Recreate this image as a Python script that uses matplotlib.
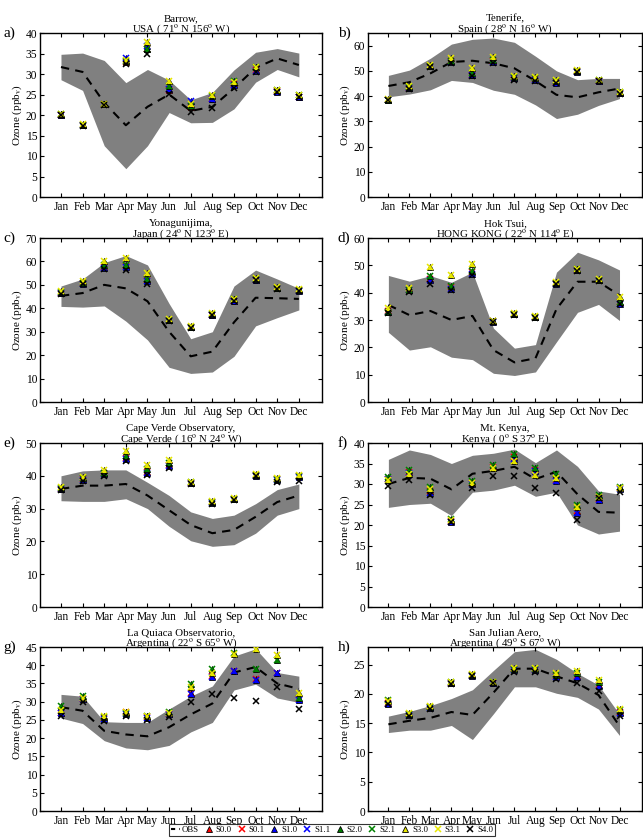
import matplotlib
matplotlib.use("Agg")
import matplotlib.pyplot as plt
from matplotlib.lines import Line2D

plt.rcParams['font.family'] = ['Liberation Serif', 'DejaVu Serif']
plt.rcParams['mathtext.fontset'] = 'stix'

months = ['Jan', 'Feb', 'Mar', 'Apr', 'May', 'Jun', 'Jul', 'Aug', 'Sep', 'Oct', 'Nov', 'Dec']

# ---------------- a) Barrow ----------------
barrow_obs = [31.7, 30.5, 23.0, 17.5, 22.0, 25.0, 21.0, 22.0, 26.5, 31.5, 33.8, 32.2]
barrow_hi = [34.8, 35.1, 33.3, 27.9, 31.1, 28.5, 23.7, 25.5, 31.0, 35.3, 36.2, 35.1]
barrow_lo = [28.6, 26.0, 12.5, 6.9, 12.5, 20.6, 18.1, 18.2, 21.5, 28.0, 31.1, 29.3]
barrow_s0 = [20.1, 17.5, 22.6, 33.0, 36.0, 26.0, 22.0, 23.8, 27.5, 31.0, 25.8, 24.5]
barrow_s1 = [20.1, 17.5, 22.6, 33.8, 36.8, 26.3, 23.3, 24.0, 27.3, 30.8, 25.6, 24.5]
barrow_s2 = [20.2, 17.6, 22.7, 33.2, 36.0, 27.0, 22.3, 24.6, 28.3, 31.8, 26.2, 24.8]
barrow_s3 = [20.3, 17.7, 22.8, 33.5, 37.8, 28.3, 22.8, 24.8, 28.0, 31.7, 26.2, 24.8]
barrow_s4 = [20.0, 17.4, 22.5, 32.5, 35.0, 25.2, 20.7, 21.8, 26.6, 30.5, 25.6, 24.4]

# ---------------- b) Tenerife ----------------
tenerife_obs = [44.0, 45.5, 49.0, 53.5, 54.0, 53.0, 51.0, 46.0, 40.5, 39.5, 41.5, 43.0]
tenerife_hi = [48.2, 50.3, 55.0, 60.6, 62.5, 63.0, 61.3, 55.8, 50.0, 46.5, 47.0, 47.0]
tenerife_lo = [39.7, 40.8, 42.5, 46.2, 45.4, 42.3, 40.7, 36.5, 31.1, 32.8, 36.3, 39.0]
tenerife_s0 = [38.5, 43.3, 51.8, 53.8, 48.5, 53.8, 47.3, 46.8, 45.5, 49.8, 46.0, 41.3]
tenerife_s1 = [38.5, 43.3, 51.8, 53.5, 48.2, 53.5, 47.3, 46.5, 45.3, 49.5, 46.0, 41.3]
tenerife_s2 = [38.6, 43.5, 52.0, 54.0, 49.0, 54.2, 47.5, 47.0, 46.0, 50.0, 46.2, 41.5]
tenerife_s3 = [38.8, 44.0, 52.5, 55.0, 51.0, 55.5, 48.0, 47.5, 46.3, 50.3, 46.3, 41.8]
tenerife_s4 = [38.3, 43.0, 51.5, 53.0, 48.0, 53.0, 46.5, 46.0, 45.0, 49.5, 45.8, 41.0]

# ---------------- c) Yonagunijima ----------------
yonag_obs = [45.3, 46.5, 50.0, 48.5, 43.0, 30.0, 19.5, 21.5, 34.0, 44.5, 44.3, 44.0]
yonag_hi = [49.5, 52.5, 59.5, 62.5, 58.5, 42.0, 27.0, 30.0, 49.5, 56.3, 52.5, 48.5]
yonag_lo = [40.8, 40.5, 41.0, 34.5, 26.5, 14.8, 12.2, 12.8, 19.5, 32.5, 36.0, 39.3]
yonag_s0 = [46.6, 50.8, 57.5, 58.0, 52.0, 34.8, 31.9, 37.3, 43.2, 52.2, 48.6, 47.7]
yonag_s1 = [46.5, 50.5, 57.0, 57.5, 51.5, 34.8, 31.8, 37.2, 43.0, 52.0, 48.5, 47.5]
yonag_s2 = [46.8, 51.0, 58.5, 58.5, 52.5, 35.0, 32.0, 37.5, 43.8, 52.5, 48.8, 48.0]
yonag_s3 = [47.2, 51.5, 60.0, 61.5, 55.0, 35.3, 32.3, 37.8, 44.0, 52.8, 49.0, 48.3]
yonag_s4 = [46.3, 50.3, 56.8, 56.3, 50.5, 34.5, 31.7, 37.0, 43.0, 52.0, 48.3, 47.3]

# ---------------- d) Hok Tsui ----------------
hoktsui_obs = [35.5, 31.8, 33.3, 30.0, 31.5, 19.0, 14.5, 16.0, 34.0, 44.0, 44.0, 39.0]
hoktsui_hi = [46.3, 44.2, 46.2, 43.8, 47.5, 27.0, 19.7, 21.0, 47.5, 54.8, 52.0, 48.3]
hoktsui_lo = [25.5, 19.0, 20.2, 16.4, 15.5, 10.5, 9.7, 11.0, 22.0, 32.8, 35.7, 29.8]
hoktsui_s0 = [33.2, 41.0, 45.0, 42.0, 47.5, 29.5, 32.2, 31.0, 43.4, 48.4, 44.6, 36.5]
hoktsui_s1 = [33.0, 40.8, 44.5, 41.5, 47.0, 29.4, 32.2, 31.0, 43.3, 48.3, 44.5, 36.0]
hoktsui_s2 = [33.0, 40.8, 46.0, 42.5, 48.0, 29.6, 32.3, 31.0, 43.5, 48.5, 44.8, 36.5]
hoktsui_s3 = [34.5, 41.8, 49.3, 46.5, 50.5, 29.8, 32.5, 31.3, 43.8, 48.8, 45.0, 38.5]
hoktsui_s4 = [32.5, 40.3, 43.3, 40.8, 46.5, 29.2, 32.0, 30.8, 43.0, 48.0, 44.3, 35.8]

# ---------------- e) Cape Verde ----------------
capeverde_obs = [36.0, 37.0, 37.0, 37.5, 34.0, 29.5, 25.0, 22.5, 23.5, 27.5, 32.0, 34.0]
capeverde_hi = [40.0, 41.5, 41.8, 41.8, 38.0, 34.0, 29.0, 27.0, 28.0, 31.5, 35.8, 37.5]
capeverde_lo = [32.4, 32.2, 32.2, 33.0, 30.0, 24.6, 20.2, 18.5, 19.0, 22.5, 28.0, 30.0]
capeverde_s0 = [36.1, 39.0, 40.8, 45.5, 41.3, 43.3, 37.9, 31.9, 32.9, 40.1, 38.9, 39.8]
capeverde_s1 = [36.0, 38.8, 40.5, 45.0, 40.8, 43.0, 37.8, 31.8, 32.8, 40.0, 38.8, 39.6]
capeverde_s2 = [36.3, 39.2, 41.0, 46.0, 42.0, 43.8, 38.0, 32.0, 33.0, 40.2, 39.0, 40.0]
capeverde_s3 = [36.5, 39.5, 41.7, 47.5, 43.3, 44.8, 38.2, 32.3, 33.2, 40.5, 39.3, 40.2]
capeverde_s4 = [35.8, 38.3, 40.0, 44.5, 40.3, 42.5, 37.5, 31.5, 32.5, 39.8, 38.0, 38.3]

# ---------------- f) Mt. Kenya ----------------
kenya_obs = [30.0, 31.5, 31.3, 28.7, 32.5, 33.2, 34.2, 31.2, 33.0, 27.5, 23.2, 23.0]
kenya_hi = [36.0, 38.3, 37.2, 35.0, 37.0, 37.5, 38.5, 35.2, 38.3, 34.3, 28.3, 27.5]
kenya_lo = [24.3, 25.0, 25.3, 22.3, 28.0, 28.5, 29.7, 27.0, 28.0, 20.0, 17.8, 18.5]
kenya_s0 = [31.3, 33.0, 28.2, 21.0, 30.2, 34.2, 36.5, 33.5, 31.0, 23.5, 26.3, 29.0]
kenya_s1 = [31.2, 32.8, 27.8, 20.8, 30.0, 34.0, 36.2, 33.2, 30.8, 23.0, 26.0, 28.8]
kenya_s2 = [31.8, 33.5, 29.2, 21.5, 30.8, 34.6, 37.2, 34.0, 32.5, 24.8, 27.3, 29.3]
kenya_s3 = [31.0, 32.5, 28.8, 21.3, 30.3, 33.8, 35.5, 32.3, 31.5, 24.5, 26.8, 29.0]
kenya_s4 = [29.5, 31.0, 27.3, 20.8, 29.0, 32.0, 32.0, 29.0, 27.8, 21.3, 26.5, 28.0]

# ---------------- g) La Quiaca ----------------
quiaca_obs = [28.5, 27.5, 22.0, 21.0, 20.5, 23.0, 26.5, 29.5, 38.0, 39.5, 35.0, 33.5]
quiaca_hi = [32.0, 31.5, 24.5, 24.3, 24.3, 28.0, 31.5, 34.3, 42.5, 44.5, 38.0, 37.0]
quiaca_lo = [25.5, 24.0, 19.3, 17.3, 16.8, 18.0, 21.7, 24.3, 33.2, 34.8, 31.0, 29.8]
quiaca_s0 = [27.0, 30.8, 25.5, 27.2, 25.8, 26.7, 32.3, 37.0, 38.5, 36.3, 38.0, 30.8]
quiaca_s1 = [26.8, 30.6, 25.3, 26.5, 25.6, 26.5, 32.0, 36.8, 38.3, 36.0, 37.8, 30.5]
quiaca_s2 = [28.8, 31.5, 25.8, 27.0, 26.0, 27.2, 34.8, 39.0, 43.3, 39.0, 41.3, 31.0]
quiaca_s3 = [27.7, 31.0, 26.0, 27.2, 26.2, 27.0, 34.0, 38.0, 43.0, 44.5, 42.8, 32.3]
quiaca_s4 = [26.0, 30.0, 24.7, 26.0, 25.0, 25.8, 30.0, 32.2, 31.1, 30.3, 34.0, 28.0]

# ---------------- h) San Julian ----------------
julian_obs = [14.8, 15.4, 15.9, 16.9, 16.4, 20.2, 24.3, 24.3, 23.0, 21.8, 19.8, 14.5]
julian_hi = [16.2, 17.0, 18.0, 19.2, 20.7, 24.0, 27.2, 27.6, 25.9, 23.5, 21.5, 16.5]
julian_lo = [13.4, 13.8, 13.8, 14.6, 12.2, 16.6, 21.2, 21.2, 20.1, 19.4, 17.4, 12.9]
julian_s0 = [18.5, 16.5, 17.7, 21.9, 23.2, 21.9, 24.2, 24.1, 23.0, 23.0, 21.5, 16.9]
julian_s1 = [18.3, 16.4, 17.6, 21.9, 23.1, 21.9, 24.1, 24.0, 22.9, 22.8, 21.3, 16.7]
julian_s2 = [19.0, 16.6, 17.8, 22.0, 23.3, 22.0, 24.3, 24.2, 23.3, 23.5, 22.0, 17.2]
julian_s3 = [18.8, 16.7, 17.9, 22.1, 23.4, 22.1, 24.5, 24.4, 23.6, 23.9, 22.4, 17.5]
julian_s4 = [18.2, 16.3, 17.5, 21.7, 23.0, 21.8, 23.8, 23.7, 22.5, 21.8, 20.5, 16.3]

titles = [
    "Barrow,\nUSA ( 71$^{\\rm o}$ N 156$^{\\rm o}$ W)",
    "Tenerife,\nSpain ( 28$^{\\rm o}$ N 16$^{\\rm o}$ W)",
    "Yonagunijima,\nJapan ( 24$^{\\rm o}$ N 123$^{\\rm o}$ E)",
    "Hok Tsui,\nHONG KONG ( 22$^{\\rm o}$ N 114$^{\\rm o}$ E)",
    "Cape Verde Observatory,\nCape Verde ( 16$^{\\rm o}$ N 24$^{\\rm o}$ W)",
    "Mt. Kenya,\nKenya ( 0$^{\\rm o}$ S 37$^{\\rm o}$ E)",
    "La Quiaca Observatorio,\nArgentina ( 22$^{\\rm o}$ S 65$^{\\rm o}$ W)",
    "San Julian Aero,\nArgentina ( 49$^{\\rm o}$ S 67$^{\\rm o}$ W)",
]
panel_labels = ['a)', 'b)', 'c)', 'd)', 'e)', 'f)', 'g)', 'h)']
ylims = [40, 65, 70, 60, 50, 40, 45, 28]
yticks = [range(0, 41, 5), range(0, 61, 10), range(0, 71, 10), range(0, 61, 10),
          range(0, 51, 10), range(0, 41, 5), range(0, 46, 5), range(0, 26, 5)]

sites = [
    (barrow_obs, barrow_hi, barrow_lo, barrow_s0, barrow_s1, barrow_s2, barrow_s3, barrow_s4),
    (tenerife_obs, tenerife_hi, tenerife_lo, tenerife_s0, tenerife_s1, tenerife_s2, tenerife_s3, tenerife_s4),
    (yonag_obs, yonag_hi, yonag_lo, yonag_s0, yonag_s1, yonag_s2, yonag_s3, yonag_s4),
    (hoktsui_obs, hoktsui_hi, hoktsui_lo, hoktsui_s0, hoktsui_s1, hoktsui_s2, hoktsui_s3, hoktsui_s4),
    (capeverde_obs, capeverde_hi, capeverde_lo, capeverde_s0, capeverde_s1, capeverde_s2, capeverde_s3, capeverde_s4),
    (kenya_obs, kenya_hi, kenya_lo, kenya_s0, kenya_s1, kenya_s2, kenya_s3, kenya_s4),
    (quiaca_obs, quiaca_hi, quiaca_lo, quiaca_s0, quiaca_s1, quiaca_s2, quiaca_s3, quiaca_s4),
    (julian_obs, julian_hi, julian_lo, julian_s0, julian_s1, julian_s2, julian_s3, julian_s4),
]

colors = ['red', 'blue', 'green', '#e8e800']

fig = plt.figure(figsize=(6.43, 8.40), dpi=100)
lefts = [40 / 643, 368 / 643]
widths = [282 / 643, 274 / 643]
bottoms = [1 - 197 / 840, 1 - 402 / 840, 1 - 607 / 840, 1 - 811 / 840]
height = 164 / 840

ms = 4.2
x = list(range(1, 13))
for i, site in enumerate(sites):
    obs, hi, lo, s0, s1, s2, s3, s4 = site
    col = i % 2
    row = i // 2
    ax = fig.add_axes([lefts[col], bottoms[row], widths[col], height])
    ax.fill_between(x, lo, hi, color='#808080', linewidth=0, zorder=1)
    ax.plot(x, obs, color='black', linestyle=(0, (4, 3)), linewidth=1.5, zorder=2)
    scen = [s0, s1, s2, s3]
    for c, vals in zip(colors, scen):
        ax.plot(x, vals, linestyle='none', marker='^', markersize=ms,
                markerfacecolor=c, markeredgecolor='black', markeredgewidth=0.6, zorder=3)
        ax.plot(x, vals, linestyle='none', marker='x', markersize=ms,
                color=c, markeredgewidth=1.1, zorder=3)
    ax.plot(x, s4, linestyle='none', marker='x', markersize=ms,
            color='black', markeredgewidth=1.1, zorder=4)
    ax.set_xlim(0.03, 13.07)
    ax.set_ylim(0, ylims[i])
    ax.set_xticks(x)
    ax.set_xticklabels(months, fontsize=8.3)
    ax.set_yticks(list(yticks[i]))
    ax.tick_params(axis='y', labelsize=8.3, pad=2)
    ax.tick_params(axis='x', pad=3)
    ax.tick_params(direction='in', top=True, right=True, length=3, width=0.8)
    ax.set_ylabel('Ozone (ppb$_{\\rm v}$)', fontsize=8, labelpad=1)
    ax.set_title(titles[i], fontsize=7.8, pad=1, linespacing=0.95)
    ax.text(-0.13 if col == 0 else -0.11, 1.0, panel_labels[i], transform=ax.transAxes,
            fontsize=11, ha='left', va='center')
    for s in ax.spines.values():
        s.set_linewidth(1.0)

handles = [Line2D([], [], color='black', linestyle=(0, (2, 2)), linewidth=1.5)]
labels = ['OBS']
names = ['S0', 'S1', 'S2', 'S3']
for c, n in zip(colors, names):
    handles.append(Line2D([], [], linestyle='none', marker='^', markersize=4.5,
                          markerfacecolor=c, markeredgecolor='black', markeredgewidth=0.6))
    labels.append(n + '.0')
    handles.append(Line2D([], [], linestyle='none', marker='x', markersize=4.5,
                          color=c, markeredgewidth=1.1))
    labels.append(n + '.1')
handles.append(Line2D([], [], linestyle='none', marker='x', markersize=4.5,
                      color='black', markeredgewidth=1.1))
labels.append('S4.0')

leg = fig.legend(handles, labels, loc='center', bbox_to_anchor=(332 / 643, 1 - 830 / 840),
                 ncol=11, fontsize=6.3, frameon=True, fancybox=False, edgecolor='black',
                 handlelength=1.0, handletextpad=0.3, columnspacing=0.6, borderpad=0.25,
                 borderaxespad=0)
leg.get_frame().set_linewidth(0.8)

fig.savefig('out.png', dpi=100)
